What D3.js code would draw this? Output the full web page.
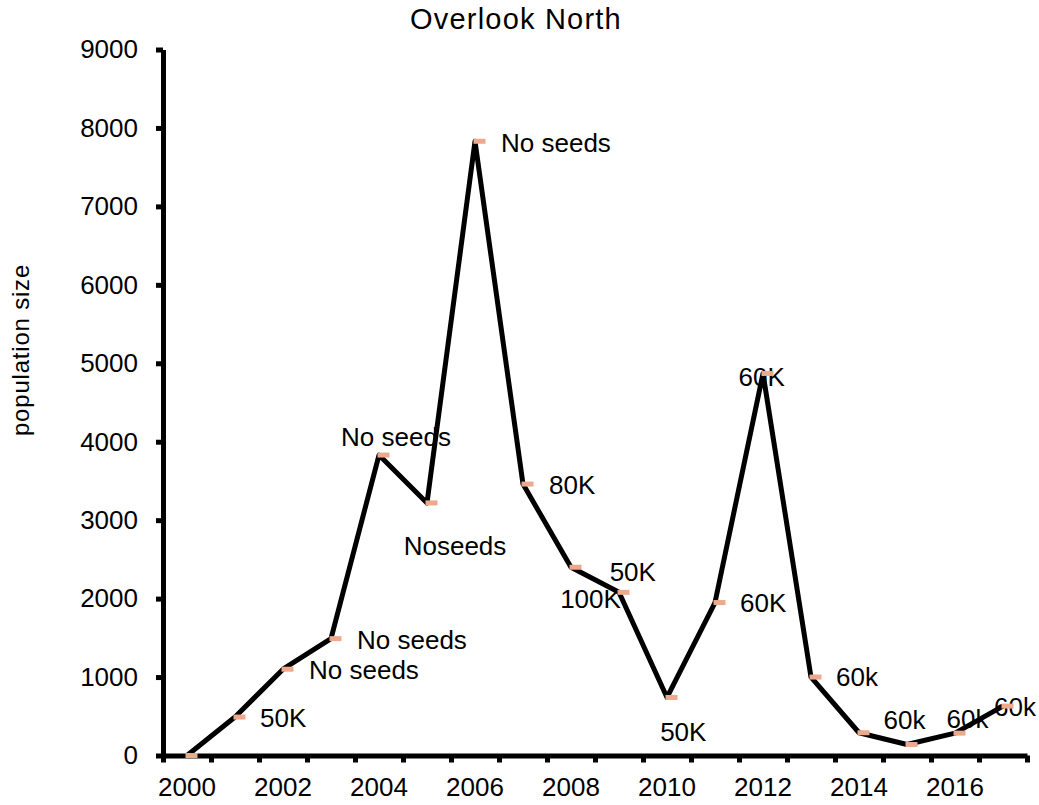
<!DOCTYPE html>
<html>
<head>
<meta charset="utf-8">
<script src="https://cdn.jsdelivr.net/npm/d3@7"></script>
<style>
  html, body { margin: 0; padding: 0; background: #fff; }
  svg text { font-family: "Liberation Sans", Arial, Helvetica, sans-serif; fill: #000; }
</style>
</head>
<body>
<svg id="chart" width="1039" height="805"></svg>
<script>
// Overlook North: yearly population size with seeding notes
const years = [2000, 2001, 2002, 2003, 2004, 2005, 2006, 2007, 2008,
               2009, 2010, 2011, 2012, 2013, 2014, 2015, 2016, 2017];
const population = [0, 490, 1100, 1490, 3830, 3220, 7830, 3460, 2400,
                    2080, 740, 1950, 4870, 1000, 290, 140, 285, 630];
const notes = ["", "50K", "No seeds", "No seeds", "No seeds", "Noseeds", "No seeds", "80K", "100K",
               "50K", "50K", "60K", "60K", "60k", "", "60k", "60k", "60k"];
const yearLabels = [2000, 2002, 2004, 2006, 2008, 2010, 2012, 2014, 2016];
const yTicks = [0, 1000, 2000, 3000, 4000, 5000, 6000, 7000, 8000, 9000];

// placement of each note relative to its point: [dx, dy, anchor]
const notePlacement = [
  [0, 0, "start"], [25, 1, "start"], [26, 0, "start"], [26, 1, "start"],
  [17, -18, "middle"], [28, 43, "middle"], [26, 1, "start"], [26, 1, "start"],
  [19.5, 31.7, "middle"], [13.8, -21, "middle"], [16.3, 33.7, "middle"],
  [25, 0, "start"], [-1.3, 3.5, "middle"], [25, -0.5, "start"], [0, 0, "start"],
  [-2.5, -25, "middle"], [12.5, -14.7, "middle"], [12, 0.7, "middle"]
];

const svg = d3.select("#chart");
const plotLeft = 163, plotRight = 1027, plotTop = 49.5, plotBottom = 755.5;
const ink = "#000";
const markerFill = "#EDA98B";
const strokeW = 5;

const x = d3.scaleBand().domain(years).range([plotLeft, plotRight]).padding(0);
const xEdge = d3.scaleLinear().domain([0, years.length]).range([plotLeft, plotRight]);
const y = d3.scaleLinear().domain([0, 9000]).range([plotBottom, plotTop]);
const cx = d => x(d) + x.bandwidth() / 2;

// title
svg.append("text")
  .attr("x", 516).attr("y", 29)
  .attr("text-anchor", "middle")
  .style("font-size", "29px")
  .style("letter-spacing", "1.2px")
  .text("Overlook North");

// y axis title
svg.append("text")
  .attr("transform", "translate(29,350) rotate(-90)")
  .attr("text-anchor", "middle")
  .style("font-size", "24px")
  .style("letter-spacing", "0.8px")
  .text("population size");

// y axis
const yAxis = svg.append("g")
  .attr("transform", `translate(${plotLeft},0)`)
  .call(d3.axisLeft(y).tickValues(yTicks).tickFormat(d3.format("d"))
    .tickSize(7).tickSizeOuter(0).tickPadding(18));
yAxis.select(".domain").attr("stroke", ink).attr("stroke-width", strokeW);
yAxis.selectAll(".tick line").attr("stroke", ink).attr("stroke-width", strokeW);
yAxis.selectAll(".tick text").style("font-size", "26px").attr("font-family", null);

// x axis: tick marks on category boundaries
const xTicks = svg.append("g")
  .attr("transform", `translate(0,${plotBottom})`)
  .call(d3.axisBottom(xEdge).tickValues(d3.range(years.length + 1))
    .tickSize(7).tickSizeOuter(0).tickFormat(""));
xTicks.select(".domain").attr("stroke", ink).attr("stroke-width", strokeW);
xTicks.selectAll(".tick line").attr("stroke", ink).attr("stroke-width", strokeW);

// x axis: year labels centred in their categories
const xLabels = svg.append("g")
  .attr("transform", `translate(0,${plotBottom})`)
  .call(d3.axisBottom(x).tickValues(yearLabels).tickSize(0).tickPadding(22));
xLabels.select(".domain").remove();
xLabels.selectAll(".tick text").style("font-size", "26px").attr("font-family", null);

const pts = years.map((yr, i) => ({ yr, v: population[i], note: notes[i], place: notePlacement[i] }));

// population line
svg.append("path")
  .datum(pts)
  .attr("fill", "none")
  .attr("stroke", ink)
  .attr("stroke-width", strokeW)
  .attr("stroke-linejoin", "round")
  .attr("d", d3.line().x(d => cx(d.yr)).y(d => y(d.v)));

// notes
svg.append("g").selectAll("text")
  .data(pts.filter(d => d.note))
  .join("text")
  .attr("x", d => cx(d.yr) + d.place[0])
  .attr("y", d => y(d.v) + d.place[1])
  .attr("dy", "0.36em")
  .attr("text-anchor", d => d.place[2])
  .style("font-size", "26px")
  .text(d => d.note);

// markers
svg.append("g").selectAll("rect")
  .data(pts)
  .join("rect")
  .attr("x", d => cx(d.yr) - 1.5)
  .attr("y", d => y(d.v) - 2.5)
  .attr("width", 12)
  .attr("height", 5)
  .attr("fill", markerFill);
</script>
</body>
</html>
